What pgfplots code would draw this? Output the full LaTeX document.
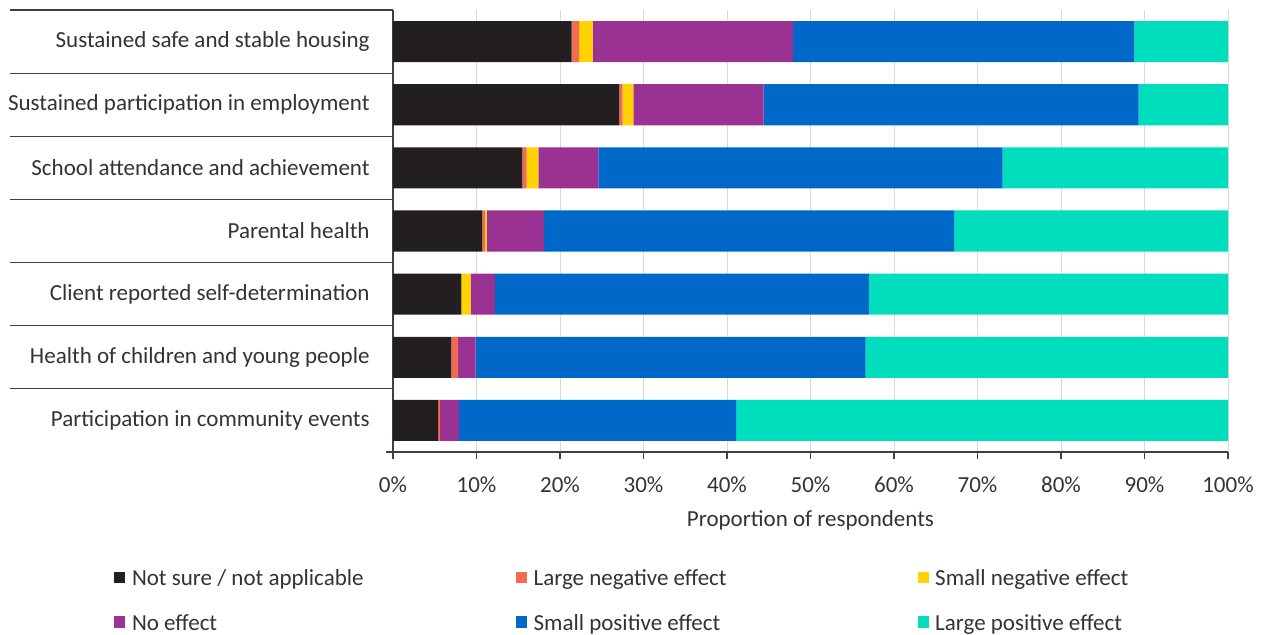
\documentclass[border=0pt]{standalone}
\usepackage{fontspec}
\setmainfont{Carlito}
\usepackage{pgfplots}
\usepackage{pgfplotstable}
\pgfplotsset{compat=1.18}

\definecolor{cNotSure}{HTML}{231F20}
\definecolor{cLargeNeg}{HTML}{F26B4F}
\definecolor{cSmallNeg}{HTML}{FFD200}
\definecolor{cNoEff}{HTML}{9A3294}
\definecolor{cSmallPos}{HTML}{0068C8}
\definecolor{cLargePos}{HTML}{00DEBE}
\definecolor{axisgray}{HTML}{404040}
\definecolor{gridgray}{HTML}{D9D9D9}

% Share of respondents (%) per outcome, in the order the rows are drawn (top to bottom)
\pgfplotstableread{
y notsure largeneg smallneg noeff smallpos largepos
0 21.4 0.9 1.6 24.0 40.9 11.2
1 27.1 0.4 1.3 15.6 44.9 10.7
2 15.5 0.5 1.4  7.2 48.4 27.0
3 10.7 0.3 0.2  6.9 49.1 32.8
4  8.2 0.0 1.1  2.9 44.8 43.0
5  7.0 0.8 0.0  2.1 46.7 43.4
6  5.4 0.2 0.0  2.3 33.2 58.9
}\results

\newcommand\chartfont{\fontsize{11.5pt}{13.8pt}\selectfont}
\newcommand\legentry[1]{\makebox[192pt][l]{\strut #1}}

\begin{document}
\begin{tikzpicture}
\path[use as bounding box] (0,0) rectangle (631.5pt,317pt);
\begin{axis}[
  at={(196.5pt,91pt)}, anchor=south west,
  scale only axis, width=417.5pt, height=221pt,
  xbar stacked, bar width=0.65,
  xmin=0, xmax=100, ymin=-0.5, ymax=6.5, enlargelimits=false,
  y dir=reverse,
  clip=false,
  axis x line*=bottom, axis y line*=left,
  axis line style={axisgray, line width=0.6pt},
  xtick={0,10,...,100},
  xticklabel={\pgfmathprintnumber{\tick}\%},
  /pgf/number format/assume math mode=true,
  ytick={0,...,6},
  yticklabels={Sustained safe and stable housing,
               Sustained participation in employment,
               School attendance and achievement,
               Parental health,
               Client reported self-determination,
               Health of children and young people,
               Participation in community events},
  y tick style={draw=none},
  x tick style={axisgray, line width=0.6pt},
  tick align=outside, major tick length=3.5pt,
  xmajorgrids, grid style={gridgray, line width=0.5pt},
  ticklabel style={font=\chartfont, text=black!80},
  xticklabel style={anchor=center, yshift=-13pt},
  yticklabel style={anchor=east, inner sep=0pt, xshift=-8pt},
  xlabel={Proportion of respondents},
  xlabel style={at={(axis description cs:0.5,0)}, anchor=center,
                yshift=-34pt, font=\chartfont, text=black!80},
  legend image code/.code={\fill[#1] (0pt,-2.9pt) rectangle (5.5pt,2.9pt);},
  legend columns=3,
  legend cell align=left,
  legend style={at={(-0.3341,-0.2579)}, anchor=north west,
                draw=none, fill=none, inner sep=0pt, row sep=11.2pt,
                font=\chartfont, text=black!80,
                nodes={inner sep=0pt},
                /tikz/every odd column/.append style={column sep=3.3pt}},
]
\addplot[fill=cNotSure,  draw=none] table[x=notsure,  y=y]{\results};
\addplot[fill=cLargeNeg, draw=none] table[x=largeneg, y=y]{\results};
\addplot[fill=cSmallNeg, draw=none] table[x=smallneg, y=y]{\results};
\addplot[fill=cNoEff,    draw=none] table[x=noeff,    y=y]{\results};
\addplot[fill=cSmallPos, draw=none] table[x=smallpos, y=y]{\results};
\addplot[fill=cLargePos, draw=none] table[x=largepos, y=y]{\results};
\legend{\legentry{Not sure / not applicable},
        \legentry{Large negative effect},
        \legentry{Small negative effect},
        \legentry{No effect},
        \legentry{Small positive effect},
        \legentry{Large positive effect}}
\end{axis}
% category separators reaching out under the row labels
\foreach \k in {0,...,6} {
  \draw[axisgray, line width=0.6pt] (5pt,{312pt-\k*221pt/7}) -- (196.5pt,{312pt-\k*221pt/7});
}
\draw[axisgray, line width=0.6pt] (193pt,91pt) -- (196.5pt,91pt);
\end{tikzpicture}
\end{document}
